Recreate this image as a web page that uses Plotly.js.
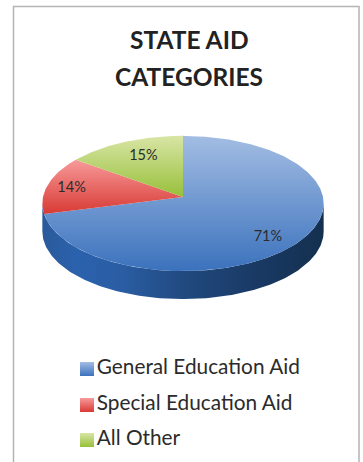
<!DOCTYPE html>
<html>
<head>
<meta charset="utf-8">
<script src="https://cdn.plot.ly/plotly-3.0.1.min.js"></script>
<style>html,body{margin:0;padding:0;background:#fff}#chart{width:363px;height:462px}</style>
</head>
<body>
<div id="chart"></div>
<script>
// State aid shares, clockwise from twelve o'clock
const categories = ["General Education Aid", "Special Education Aid", "All Other"];
const shares = [71, 14, 15];
const titleLines = ["STATE AID", "CATEGORIES"];

// Tilted disc projection (plot units are screen pixels)
const cx = 183, cy = 197, rx = 140, ry = 67, persp = 0.096, depth = 28;
const labelRadius = 0.8;
const labelNudge = [[-8, 6], [-3, 1], [8, 4]];
const topFills = [
  ["#a3bde3", "#3b72bd"],
  ["#f79a9a", "#d83a34"],
  ["#d8e5a5", "#97c03a"]
];
const legendY = [369, 405, 440];
const legendX = 87;
const titleY = [39, 76];

function project(deg, r) {
  const t = deg * Math.PI / 180;
  const u = r * Math.sin(t), v = -r * Math.cos(t);
  const w = 1 - persp * v;
  return [cx + rx * u / w, cy + ry * v / w, v];
}

function arc(from, to) {
  const pts = [];
  const n = Math.max(2, Math.ceil(Math.abs(to - from)));
  for (let i = 0; i <= n; i++) pts.push(project(from + (to - from) * i / n, 1));
  return pts;
}

const traces = [];

// Outer wall: the part of the rim that faces the viewer
const wallStart = Math.acos(-persp) * 180 / Math.PI;
const rim = arc(wallStart, 360 - wallStart);
traces.push({
  type: "scatter", mode: "lines", hoverinfo: "skip", showlegend: false,
  x: rim.map(p => p[0]).concat(rim.slice().reverse().map(p => p[0])),
  y: rim.map(p => p[1]).concat(rim.slice().reverse().map(p => p[1] + depth)),
  line: {width: 0}, fill: "toself",
  fillgradient: {
    type: "horizontal", start: cx - rx, stop: cx + rx,
    colorscale: [[0, "#2a5a9a"], [0.12, "#2b62ad"], [0.28, "#2a5da3"], [0.5, "#214a80"], [0.75, "#1a3a65"], [1, "#14304f"]]
  }
});

// Top face wedges
let start = 0;
const total = shares.reduce((a, b) => a + b, 0);
shares.forEach((value, i) => {
  const end = start + value / total * 360;
  const edge = arc(start, end);
  const xs = [cx].concat(edge.map(p => p[0]), [cx]);
  const ys = [cy].concat(edge.map(p => p[1]), [cy]);
  traces.push({
    type: "scatter", mode: "lines", hoverinfo: "skip", showlegend: false,
    x: xs, y: ys, line: {width: 0}, fill: "toself",
    fillgradient: {
      type: "vertical", start: Math.min(...ys), stop: Math.max(...ys),
      colorscale: [[0, topFills[i][0]], [1, topFills[i][1]]]
    }
  });
  // Percentage label placed along the wedge's middle direction
  const mid = project((start + end) / 2, labelRadius);
  traces.push({
    type: "scatter", mode: "text", hoverinfo: "skip", showlegend: false,
    x: [mid[0] + labelNudge[i][0]], y: [mid[1] + labelNudge[i][1]],
    text: [value + "%"], textposition: "middle center",
    textfont: {family: "Lato, sans-serif", size: 14.5, color: "#2b2b2b"}
  });
  start = end;
});

// Key: gradient swatch followed by the category name
categories.forEach((name, i) => {
  traces.push({
    type: "scatter", mode: "markers+text", hoverinfo: "skip", showlegend: false,
    x: [legendX], y: [legendY[i]],
    marker: {
      symbol: "square", size: 14,
      color: topFills[i][0],
      gradient: {type: "vertical", color: topFills[i][1]},
      line: {width: 0}
    },
    text: [name], textposition: "middle right",
    textfont: {family: "Lato, sans-serif", size: 20.8, color: "#2b2b2b"}
  });
});

const layout = {
  width: 363, height: 462,
  margin: {l: 0, r: 0, t: 0, b: 0},
  paper_bgcolor: "#fff", plot_bgcolor: "#fff",
  showlegend: false,
  // Two title lines set as separate annotations for their wider leading
  annotations: titleLines.map((line, i) => ({
    text: "<b>" + line + "</b>", showarrow: false,
    xref: "x", yref: "y", x: 189, y: titleY[i],
    xanchor: "center", yanchor: "middle",
    font: {family: "Lato, sans-serif", size: 24.5, color: "#222"}
  })),
  xaxis: {range: [0, 363], visible: false, fixedrange: true},
  yaxis: {range: [462, 0], visible: false, fixedrange: true},
  shapes: [{
    type: "rect", xref: "paper", yref: "paper",
    x0: 13.5 / 363, x1: 359 / 363, y0: -0.1, y1: 1 - 6.5 / 462,
    line: {color: "#b4b4b4", width: 1.5}, fillcolor: "rgba(0,0,0,0)", layer: "below"
  }]
};

Plotly.newPlot("chart", traces, layout, {displayModeBar: false, staticPlot: true});
</script>
</body>
</html>
